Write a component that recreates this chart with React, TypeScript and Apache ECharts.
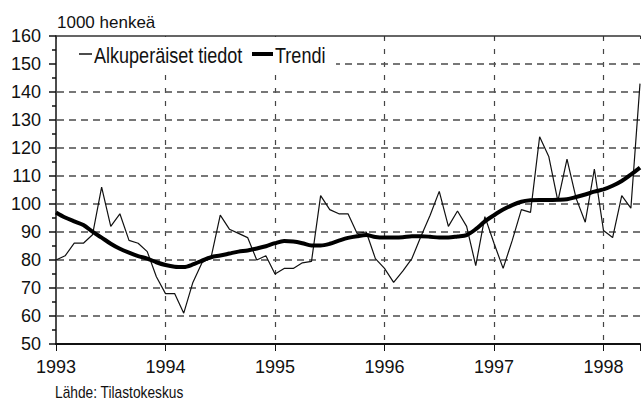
import React, { useEffect, useRef } from 'react';
import * as echarts from 'echarts';

const SANS = 'Liberation Sans, Arial, sans-serif';

const YEAR_LABELS = ['1993', '1994', '1995', '1996', '1997', '1998'];
const UNIT_LABEL = '1000 henkeä';
const SOURCE_LABEL = 'Lähde: Tilastokeskus';
const SERIES_NAMES = ['Alkuperäiset tiedot', 'Trendi'];

// Monthly values from January 1993 to May 1998 (1000 persons)
const ORIGINAL = [
  80, 81.5, 86, 86, 89, 106, 92, 96.5, 87, 86, 83, 74,
  68, 68, 61, 72, 79, 81, 96, 91, 89.5, 88, 80, 81.5,
  75, 77, 77, 79, 79.5, 103, 98, 96.5, 96.5, 89.5, 90, 80.5,
  77, 72, 76, 80.5, 88.5, 96, 104.5, 92, 97.5, 92, 78, 95.5,
  86, 77, 87, 98, 97, 124, 117, 101, 116, 102, 93.5, 112.5,
  90.5, 88, 103, 98.5, 143,
];

const TREND = [
  97, 95.2, 93.8, 92.5, 90.1, 88, 85.8, 84, 82.6, 81.4, 80.5, 79.2,
  78.2, 77.6, 77.5, 78.4, 79.8, 81, 81.6, 82.3, 83, 83.4, 84.1, 84.9,
  86, 86.8, 86.6, 86, 85.2, 85.2, 85.8, 86.9, 87.9, 88.5, 88.9, 88.2,
  88, 88, 88.1, 88.5, 88.5, 88.3, 88, 88, 88.4, 88.9, 91, 93.8,
  96, 98, 99.6, 100.8, 101.3, 101.4, 101.4, 101.5, 101.7, 102.5, 103.4, 104.4,
  105.2, 106.5, 108.2, 110.5, 113,
];

const Y_MIN = 50;
const Y_MAX = 160;
const Y_STEP = 10;
// dashed horizontal reference lines
const GRID_VALUES = [60, 70, 80, 90, 100, 110, 120, 130, 140, 150];

export default function App() {
  const ref = useRef<HTMLDivElement>(null);

  useEffect(() => {
    if (!ref.current) return;
    const chart = echarts.init(ref.current, null, { renderer: 'svg' });
    const lastIndex = ORIGINAL.length - 1;

    const renderDashedRow = (params: any, api: any) => {
      const v = api.value(1);
      const p0 = api.coord([0, v]);
      const p1 = api.coord([lastIndex, v]);
      const y = Math.round(p0[1]);
      const children: any[] = [];
      for (let x = p0[0] + 1; x < p1[0]; x += 12) {
        children.push({
          type: 'line',
          shape: { x1: x, y1: y, x2: Math.min(x + 7, p1[0]), y2: y },
          style: { stroke: '#555', lineWidth: 1.6 },
        });
      }
      return { type: 'group', children };
    };

    chart.setOption({
      animation: false,
      backgroundColor: '#ffffff',
      textStyle: { fontFamily: SANS },
      grid: { left: 56, right: 0, top: 36, bottom: 57 },
      xAxis: [
        {
          type: 'value',
          min: 0,
          max: lastIndex,
          interval: 12,
          position: 'bottom',
          axisLine: { show: true, onZero: false, lineStyle: { color: '#111', width: 2 } },
          axisTick: { show: true, length: 7, lineStyle: { color: '#111', width: 1 } },
          axisLabel: {
            margin: 14,
            fontSize: 18,
            color: '#111',
            fontFamily: SANS,
            formatter: (v: number) => (v % 12 === 0 && YEAR_LABELS[v / 12]) ? YEAR_LABELS[v / 12] : '',
          },
          splitLine: {
            show: true,
            showMinLine: false,
            showMaxLine: false,
            lineStyle: { color: '#444', opacity: 1, type: [5, 8], dashOffset: 0, cap: 'butt', width: 1.2 },
          },
        },
        {
          type: 'value',
          min: 0,
          max: lastIndex,
          interval: 12,
          position: 'top',
          axisLine: { show: true, onZero: false, lineStyle: { color: '#333', width: 1.5 } },
          axisTick: { show: true, inside: true, length: 3, lineStyle: { color: '#333' } },
          axisLabel: { show: false },
          splitLine: { show: false },
        },
      ],
      yAxis: [
        {
          type: 'value',
          min: Y_MIN,
          max: Y_MAX,
          interval: Y_STEP,
          axisLine: { show: true, lineStyle: { color: '#111', width: 1.5 } },
          axisTick: { show: true, length: 7, lineStyle: { color: '#111', width: 1.5 } },
          minorTick: { show: true, splitNumber: 2, length: 4, lineStyle: { color: '#111', width: 1.5 } },
          axisLabel: { margin: 15, fontSize: 18, color: '#111', fontFamily: SANS },
          splitLine: { show: false },
        },
      ],
      series: [
        {
          name: 'grid',
          type: 'custom',
          silent: true,
          z: 1,
          data: GRID_VALUES.map((v) => [0, v]),
          renderItem: renderDashedRow,
        },
        {
          name: SERIES_NAMES[0],
          type: 'line',
          data: ORIGINAL.map((v, i) => [i, v]),
          showSymbol: false,
          symbol: 'none',
          lineStyle: { color: '#111', width: 1.2 },
          z: 3,
        },
        {
          name: SERIES_NAMES[1],
          type: 'line',
          data: TREND.map((v, i) => [i, v]),
          showSymbol: false,
          symbol: 'none',
          smooth: 0.3,
          lineStyle: { color: '#000', width: 4 },
          z: 4,
        },
      ],
      graphic: [
        {
          type: 'rect',
          z: 100,
          shape: { x: 57, y: 37, width: 279, height: 34 },
          style: { fill: '#fff' },
        },
        {
          type: 'line',
          z: 101,
          shape: { x1: 79, y1: 54, x2: 92, y2: 54 },
          style: { stroke: '#111', lineWidth: 1.5 },
        },
        {
          type: 'text',
          z: 101,
          x: 94,
          y: 55,
          scaleX: 0.82,
          style: { text: SERIES_NAMES[0], fontSize: 22, fontFamily: SANS, fill: '#111', verticalAlign: 'middle' },
        },
        {
          type: 'line',
          z: 101,
          shape: { x1: 252, y1: 54, x2: 273, y2: 54 },
          style: { stroke: '#000', lineWidth: 4 },
        },
        {
          type: 'text',
          z: 101,
          x: 275,
          y: 55,
          scaleX: 0.82,
          style: { text: SERIES_NAMES[1], fontSize: 22, fontFamily: SANS, fill: '#111', verticalAlign: 'middle' },
        },
        {
          type: 'text',
          z: 101,
          x: 57,
          y: 22,
          style: { text: UNIT_LABEL, fontSize: 17, fontFamily: SANS, fill: '#111', verticalAlign: 'middle' },
        },
        {
          type: 'text',
          z: 101,
          x: 55,
          y: 392,
          scaleX: 0.86,
          style: { text: SOURCE_LABEL, fontSize: 16, fontFamily: SANS, fill: '#111', verticalAlign: 'middle' },
        },
      ],
    });

    return () => chart.dispose();
  }, []);

  return (
    <div
      ref={ref}
      style={{ position: 'absolute', left: 0, top: 0, width: 643, height: 401, background: '#fff' }}
    />
  );
}
